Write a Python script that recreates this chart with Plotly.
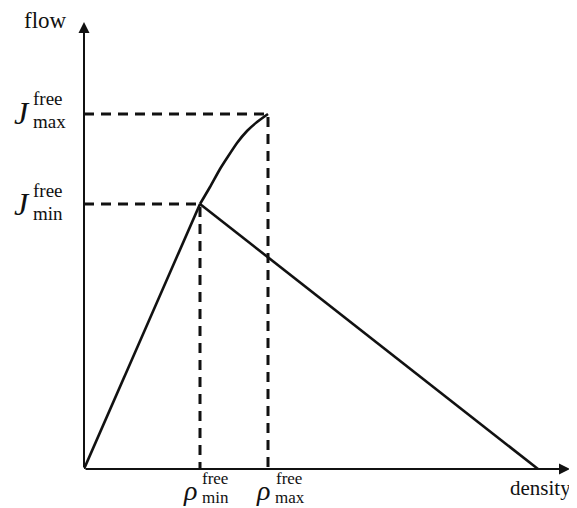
"""Fundamental diagram sketch: flow vs density with free-flow bounds."""

import plotly.graph_objects as go

# ---- data (arbitrary units) ------------------------------------------------
rho_min = 1.16
rho_max = 1.84
rho_jam = 4.54
j_min = 2.65
j_max = 3.55

# free-flow branch: straight up to rho_min, then bending over to rho_max
free_density = [0.0, rho_min, 1.26, 1.36, 1.43, 1.53, 1.63, 1.73, rho_max]
free_flow = [0.0, j_min, 2.82, 3.00, 3.11, 3.26, 3.38, 3.47, j_max]

# congested branch from (rho_min, j_min) down to the jam density
cong_density = [rho_min, rho_jam]
cong_flow = [j_min, 0.0]

x_end = 4.86
y_end = 4.47

INK = "#111111"
SERIF = "Liberation Serif, DejaVu Serif, serif"

# the page body keeps its default 8px margin, so the figure is shrunk by that
PAGE_PAD = 8

fig = go.Figure()

# dashed guides
dash_style = dict(color=INK, width=3, dash="10px,7px")
fig.add_trace(go.Scatter(x=[0, rho_max, rho_max], y=[j_max, j_max, 0],
                         mode="lines", line=dash_style, hoverinfo="skip"))
fig.add_trace(go.Scatter(x=[0, rho_min, rho_min], y=[j_min, j_min, 0],
                         mode="lines", line=dash_style, hoverinfo="skip"))

# curves
solid = dict(color=INK, width=2.6)
fig.add_trace(go.Scatter(x=free_density[1:], y=free_flow[1:], mode="lines",
                         line=dict(solid, shape="spline", smoothing=0.5),
                         hoverinfo="skip"))
fig.add_trace(go.Scatter(x=free_density[:2], y=free_flow[:2], mode="lines",
                         line=solid, hoverinfo="skip"))
fig.add_trace(go.Scatter(x=cong_density, y=cong_flow, mode="lines",
                         line=solid, hoverinfo="skip"))

# axes as arrows
for tip in [(x_end, 0), (0, y_end)]:
    fig.add_annotation(x=tip[0], y=tip[1], ax=0, ay=0, xref="x", yref="y",
                       axref="x", ayref="y", showarrow=True, arrowhead=2,
                       arrowsize=1.1, arrowwidth=2, arrowcolor=INK, text="")


def label(x, y, text, size, dx, dy):
    fig.add_annotation(x=x, y=y, xref="x", yref="y", text=text, showarrow=False,
                       xanchor="center", yanchor="middle", xshift=dx, yshift=dy,
                       font=dict(family=SERIF, size=size, color=INK))


label(0, y_end, "flow", 23, -39, 2)
label(x_end, 0, "density", 21, -30, -19)

# J labels on the flow axis
label(0, j_max, "<i>J</i>", 32, -62, 1)
label(0, j_max, "free", 19, -36, 16)
label(0, j_max, "max", 19, -35, -7)
label(0, j_min, "<i>J</i>", 32, -62, 0)
label(0, j_min, "free", 19, -36, 14)
label(0, j_min, "min", 19, -36, -9)

# rho labels on the density axis
label(rho_min, 0, "<i>ρ</i>", 28, -10, -21)
label(rho_min, 0, "free", 17, 15, -9)
label(rho_min, 0, "min", 17, 15, -28)
label(rho_max, 0, "<i>ρ</i>", 28, -5, -21)
label(rho_max, 0, "free", 17, 21, -9)
label(rho_max, 0, "max", 17, 22, -28)

fig.update_layout(
    width=577 - PAGE_PAD, height=508 - PAGE_PAD,
    margin=dict(l=84 - PAGE_PAD, r=7, t=22 - PAGE_PAD, b=39),
    paper_bgcolor="white", plot_bgcolor="white",
    showlegend=False,
    xaxis=dict(range=[0, x_end], visible=False, fixedrange=True),
    yaxis=dict(range=[0, y_end], visible=False, fixedrange=True),
)

fig.write_html("out.html")
